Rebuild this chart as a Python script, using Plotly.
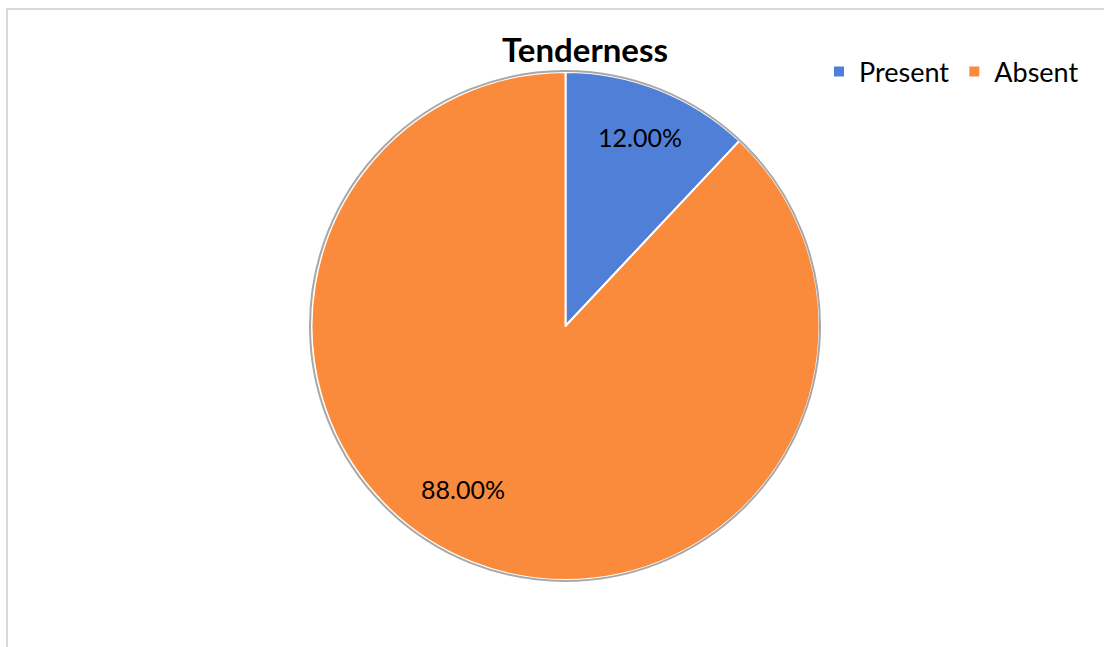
import plotly.graph_objects as go

categories = ["Present", "Absent"]
percentages = [12.00, 88.00]
colors = ["#4f7fd6", "#fb8b3c"]

# label anchor points (pixels from top-left) for each slice's value
label_px = [(640, 137), (463, 489)]

W, H = 1104, 647

fig = go.Figure()
fig.add_trace(go.Pie(
    labels=categories,
    values=percentages,
    sort=False,
    direction="clockwise",
    rotation=0,
    marker=dict(colors=colors, line=dict(color="#ffffff", width=2)),
    textinfo="none",
    domain=dict(x=[0.2817, 0.7428], y=[0.1036, 0.8887]),
    hoverinfo="label+percent",
))

for val, (px, py) in zip(percentages, label_px):
    fig.add_annotation(
        text=f"{val:.2f}%", xref="paper", yref="paper",
        x=px / W, y=1 - py / H, xanchor="center", yanchor="middle",
        showarrow=False,
        font=dict(family="Lato", size=25, color="#000000"),
    )

# chart area frame
fig.add_shape(type="rect", xref="paper", yref="paper",
              x0=7 / W, x1=1.05, y0=-0.05, y1=1 - 9 / H,
              line=dict(color="#d9d9d9", width=2), layer="below")
# rim around the pie
fig.add_shape(type="circle", xref="paper", yref="paper",
              x0=(565 - 255) / W, x1=(565 + 255) / W,
              y0=1 - 581 / H, y1=1 - 71 / H,
              line=dict(color="#a8a8a8", width=2), layer="above")

fig.update_layout(
    width=W, height=H,
    margin=dict(l=0, r=0, t=0, b=0),
    paper_bgcolor="#ffffff",
    plot_bgcolor="#ffffff",
    title=dict(text="<b>Tenderness</b>", x=585 / W, y=1 - 50 / H,
               xanchor="center", yanchor="middle",
               font=dict(family="Lato", size=33, color="#000000")),
    legend=dict(orientation="h", x=1084 / W, xanchor="right",
                y=1 - 72 / H, yanchor="middle",
                font=dict(family="Lato", size=27, color="#000000"),
                bgcolor="rgba(0,0,0,0)", traceorder="normal"),
    showlegend=True,
)

fig.write_html("out.html")
